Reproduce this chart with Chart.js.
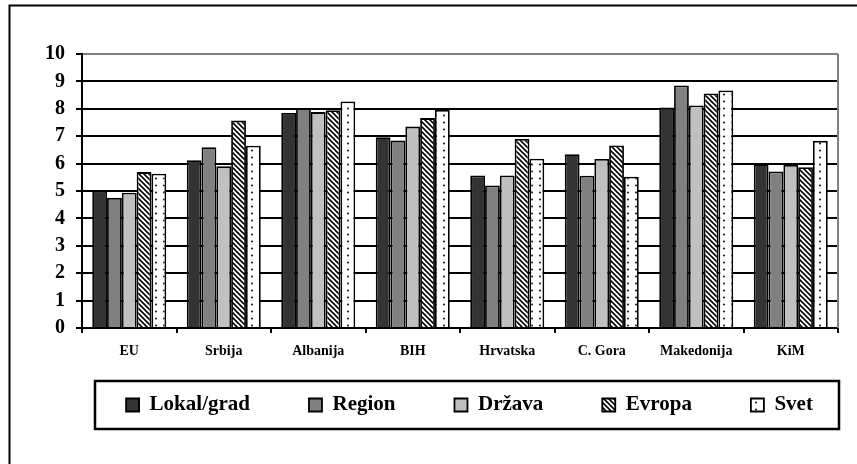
<!DOCTYPE html>
<html>
<head>
<meta charset="utf-8">
<script src="https://cdn.jsdelivr.net/npm/chart.js@4/dist/chart.umd.min.js"></script>
<style>
  html, body { margin: 0; padding: 0; background: #fff; overflow: hidden; }
  #chart { display: block; }
</style>
</head>
<body>
<!-- canvas runs past the right edge of the window so the legend row centres like the original -->
<canvas id="chart" width="939" height="464"></canvas>
<script>
const categories = ["EU", "Srbija", "Albanija", "BIH", "Hrvatska", "C. Gora", "Makedonija", "KiM"];
const seriesNames = ["Lokal/grad", "Region", "Država", "Evropa", "Svet"];
const lokal = [5.0, 6.12, 7.85, 6.96, 5.57, 6.34, 8.05, 5.98];
const region = [4.75, 6.6, 8.02, 6.84, 5.2, 5.56, 8.85, 5.71];
const drzava = [4.94, 5.9, 7.88, 7.35, 5.57, 6.17, 8.12, 5.95];
const evropa = [5.69, 7.57, 7.95, 7.66, 6.9, 6.66, 8.56, 5.87];
const svet = [5.63, 6.65, 8.27, 7.96, 6.18, 5.52, 8.67, 6.83];
const yTicks = [0, 1, 2, 3, 4, 5, 6, 7, 8, 9, 10];

const FONT = "'Liberation Serif', 'Times New Roman', serif";

// diagonal "\" hatch, black on white
function hatch() {
  const c = document.createElement("canvas");
  c.width = 5; c.height = 5;
  const g = c.getContext("2d");
  g.fillStyle = "#fff";
  g.fillRect(0, 0, 5, 5);
  g.strokeStyle = "#000";
  g.lineWidth = 1.6;
  g.beginPath();
  g.moveTo(-1, -1); g.lineTo(6, 6);
  g.moveTo(-1, 4); g.lineTo(1, 6);
  g.moveTo(4, -1); g.lineTo(6, 1);
  g.stroke();
  return g.createPattern(c, "repeat");
}

// sparse dots on white
function dots() {
  const c = document.createElement("canvas");
  c.width = 8; c.height = 7;
  const g = c.getContext("2d");
  g.fillStyle = "#fff";
  g.fillRect(0, 0, 8, 7);
  g.fillStyle = "#222";
  g.beginPath();
  g.arc(4, 3.5, 1.1, 0, Math.PI * 2);
  g.fill();
  return g.createPattern(c, "repeat");
}

const fills = ["#333333", "#808080", "#c0c0c0", hatch(), dots()];
const values = [lokal, region, drzava, evropa, svet];

const framePlugin = {
  id: "frame",
  beforeDraw(chart) {
    const ctx = chart.ctx;
    ctx.save();
    ctx.fillStyle = "#fff";
    ctx.fillRect(0, 0, chart.width, chart.height);
    ctx.strokeStyle = "#000";
    ctx.lineWidth = 2;
    ctx.beginPath();
    ctx.moveTo(9.5, chart.height);
    ctx.lineTo(9.5, 5.5);
    ctx.lineTo(chart.width, 5.5);
    ctx.stroke();
    ctx.restore();
  },
  beforeDatasetsDraw(chart) {
    // grey plot-area border on the right
    const { ctx, chartArea: a } = chart;
    ctx.save();
    ctx.strokeStyle = "#808080";
    ctx.lineWidth = 2;
    ctx.beginPath();
    ctx.moveTo(a.right, a.top);
    ctx.lineTo(a.right, a.bottom);
    ctx.stroke();
    ctx.restore();
  },
  afterDraw(chart) {
    // box around the legend
    const { ctx, chartArea: a } = chart;
    const hb = chart.legend.legendHitBoxes[0];
    const cy = hb.top + hb.height / 2;
    ctx.save();
    ctx.strokeStyle = "#000";
    ctx.lineWidth = 2.5;
    ctx.strokeRect(a.left + 13, cy - 24, a.right - a.left - 12, 48);
    ctx.restore();
  }
};

new Chart(document.getElementById("chart"), {
  type: "bar",
  data: {
    labels: categories,
    datasets: seriesNames.map((name, i) => ({
      label: name,
      data: values[i],
      backgroundColor: fills[i],
      borderColor: "#000",
      borderWidth: 1.8,
      barPercentage: 1,
      categoryPercentage: 0.783
    }))
  },
  options: {
    responsive: false,
    animation: false,
    layout: { padding: { left: 0, right: 0, top: 54, bottom: 38.5 } },
    plugins: {
      tooltip: { enabled: false },
      legend: {
        position: "bottom",
        labels: {
          font: { family: FONT, weight: "bold", size: 21 },
          color: "#000",
          boxWidth: 13,
          boxHeight: 13,
          padding: 59
        },
        // empty title with negative padding pulls the row up under the axis labels
        title: { display: true, text: "", font: { size: 1 }, padding: { top: 0, bottom: -35.5 } }
      }
    },
    scales: {
      x: {
        border: { color: "#000", width: 2 },
        grid: { offset: true, drawOnChartArea: false, color: "#000", lineWidth: 2, tickLength: 5 },
        ticks: {
          font: { family: FONT, weight: "bold", size: 14 },
          color: "#000",
          padding: 10
        }
      },
      y: {
        min: 0,
        max: 10,
        afterFit: (s) => { s.width = 82; },
        afterBuildTicks: (s) => { s.ticks = yTicks.map(v => ({ value: v })); },
        border: { color: "#000", width: 2 },
        grid: {
          color: (c) => c.tick && c.tick.value === 10 ? "#808080" : "#000",
          tickColor: "#000",
          lineWidth: 2,
          tickLength: 6
        },
        ticks: {
          autoSkip: false,
          font: { family: FONT, weight: "bold", size: 20 },
          color: "#000",
          padding: 11
        }
      },
      // empty spacer on the right, keeps the plot ending where the original does
      spacer: {
        position: "right",
        afterFit: (s) => { s.width = 101; },
        grid: { display: false },
        border: { display: false },
        ticks: { display: false }
      }
    }
  },
  plugins: [framePlugin]
});
</script>
</body>
</html>
